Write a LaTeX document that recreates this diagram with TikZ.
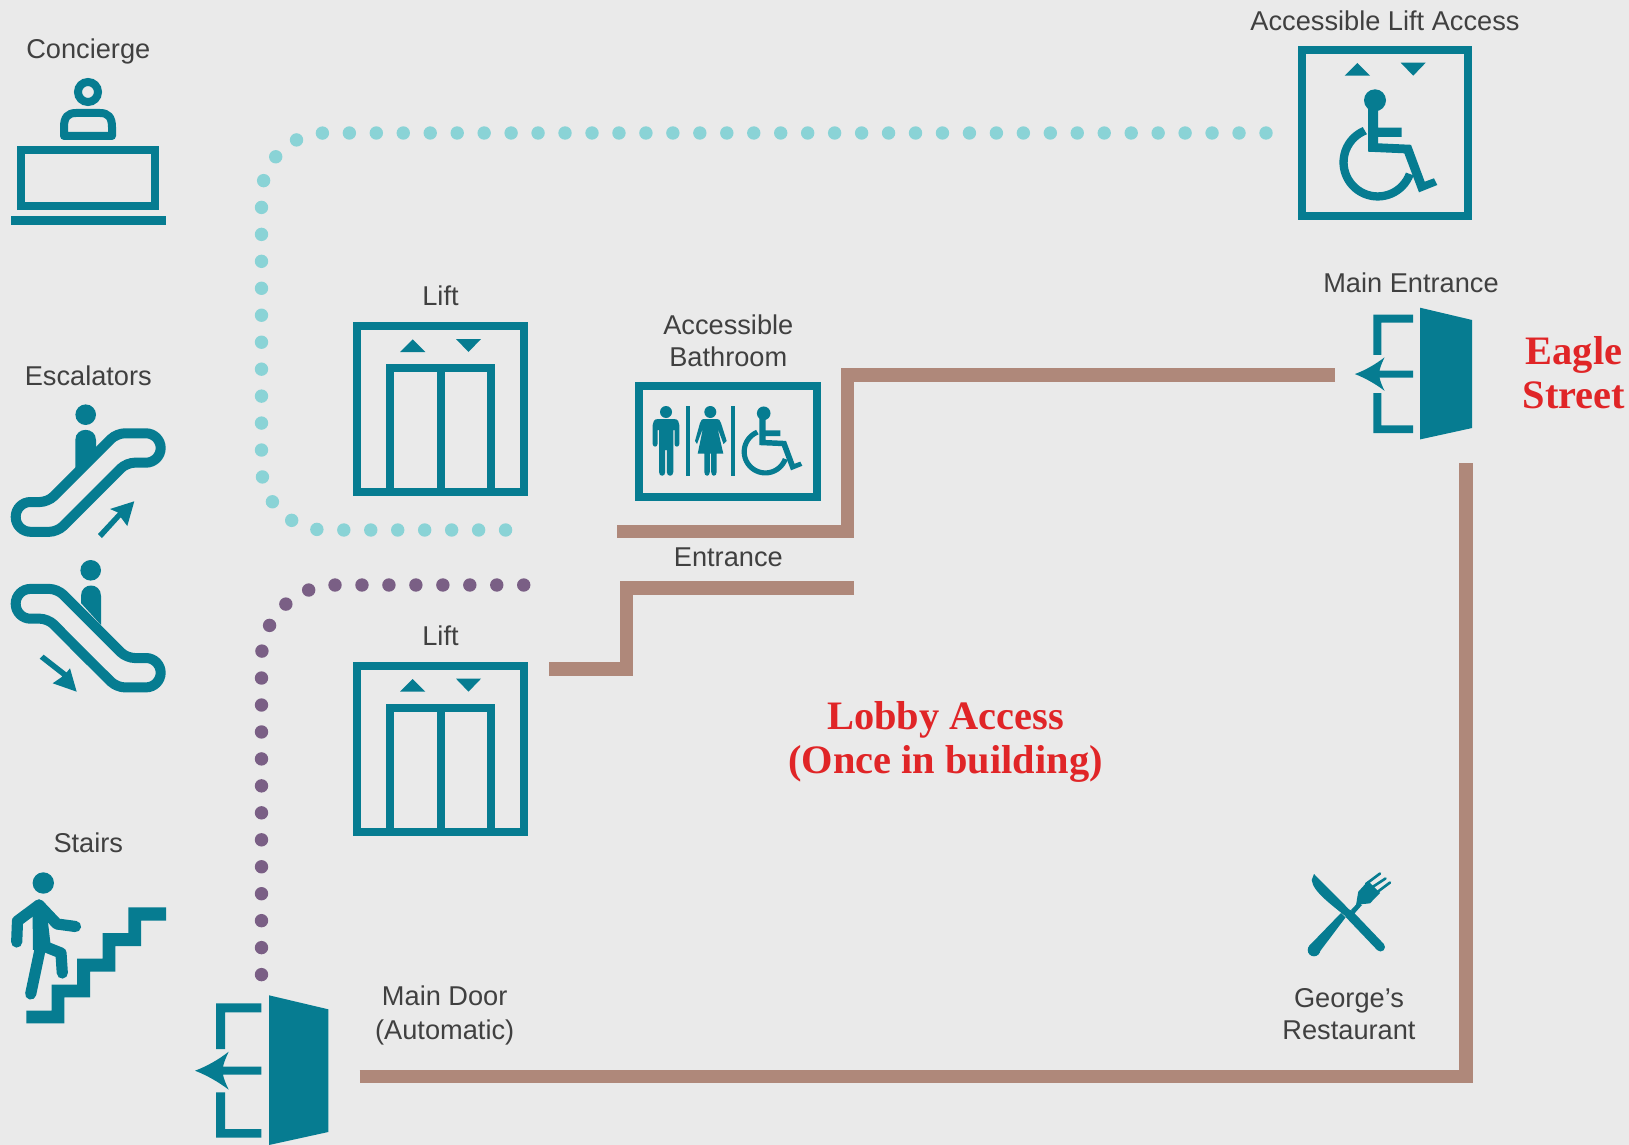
\documentclass[tikz,border=0pt]{standalone}
\usepackage{fontspec}
\setmainfont{Liberation Sans}
\newfontfamily\streetfont{Liberation Serif}
\definecolor{signteal}{HTML}{067C91}
\definecolor{pathbrown}{HTML}{AF887A}
\definecolor{dotcyan}{HTML}{8AD3D6}
\definecolor{dotpurple}{HTML}{7A5F85}
\definecolor{streetred}{HTML}{E02527}
\definecolor{textgrey}{HTML}{404040}
\definecolor{wallgrey}{HTML}{EAEAEA}
\tikzset{
  signtext/.style={text=textgrey,align=center,inner sep=0pt,font=\fontsize{13.6}{16}\selectfont},
  signbase/.style={signtext,anchor=base},
  streettext/.style={text=streetred,align=center,inner sep=0pt,font=\streetfont\bfseries\fontsize{20.2}{22}\selectfont},
  route/.style={draw=pathbrown,line width=6.67pt,miter limit=10},
  cyandots/.style={draw=dotcyan,line width=6.7pt,line cap=round,dash pattern=on 0pt off 13.48pt,rounded corners=32pt},
  purpledots/.style={draw=dotpurple,line width=6.7pt,line cap=round,dash pattern=on 0pt off 13.48pt,rounded corners=37pt},
  iconline/.style={draw=signteal,line width=4pt},
  limb/.style={draw=signteal,line width=5.6pt,line cap=round,line join=round},
  belt/.style={draw=signteal,line width=5pt},
  liftframe/.pic={
    \draw[iconline] (4,4) rectangle (170.4,170);
    \fill[signteal] (46.7,29.7) -- (59.4,17) -- (72,29.7) -- cycle;
    \fill[signteal] (102.7,16.7) -- (127.7,16.7) -- (115.2,29.7) -- cycle;
  },
  liftbox/.pic={
    \pic {liftframe};
    \draw[iconline] (36.7,170) -- (36.7,45.7) -- (137.7,45.7) -- (137.7,170);
    \draw[iconline] (87.4,45.7) -- (87.4,170);
  },
  exitdoor/.pic={
    \fill[signteal] (0,0) -- (59.3,14) -- (59.3,136.7) -- (0,149.7) -- cycle;
    \fill[signteal] (-7.7,8) -- (-53,8) -- (-53,53.7) -- (-44,53.7) -- (-44,17) -- (-7.7,17) -- cycle;
    \fill[signteal] (-7.7,133.7) -- (-44,133.7) -- (-44,97) -- (-53,97) -- (-53,142.4) -- (-7.7,142.4) -- cycle;
    \fill[signteal] (-74,75.4) .. controls (-62,71) and (-50,64) .. (-40.3,56.4)
      .. controls (-43,62) and (-45,67) .. (-46,71.4) -- (-7.7,71.4) -- (-7.7,79.4) -- (-46,79.4)
      .. controls (-45,84) and (-43,89) .. (-40.3,94.4) .. controls (-50,87) and (-62,80) .. (-74,75.4) -- cycle;
  },
  wheelchair/.pic={
    \fill[signteal] (0,0) circle[radius=11];
    \fill[signteal] (-7,0) -- (3,0) -- (3,27.4) -- (26.7,27.4) -- (26.7,36.7) -- (3,36.7) -- (3,43) -- (36,44.5)
      -- (49.7,81.4) -- (59,78) -- (62.3,84.7) -- (44,92) -- (29.3,53) -- (-7,51.4) -- cycle;
    \fill[signteal] plot[domain=20:247,samples=40] ({2.7+38.3*cos(\x)},{62+38.3*sin(\x)})
      -- plot[domain=249:20,samples=40] ({2.7+30*cos(\x)},{62+30*sin(\x)}) -- cycle;
  }
}
\begin{document}
\begin{tikzpicture}[x=0.5pt,y=-0.5pt]
\fill[wallgrey] (0,0) rectangle (1629,1145);
\useasboundingbox (0,0) rectangle (1629,1145);

% labels
\node[signbase] (concierge) at (88.3,58.3) {Concierge};
\node[signbase] (escalators) at (88.3,385) {Escalators};
\node[signbase] (stairs) at (88.3,852.7) {Stairs};
\node[signbase] (liftupper) at (440.5,305.8) {Lift};
\node[signbase] (liftlower) at (440.5,645.8) {Lift};
\node[signtext] (bathroom) at (728.3,341) {Accessible\\Bathroom};
\node[signbase] (entrance) at (728.3,566.7) {Entrance};
\node[signbase] (liftaccess) at (1385,30.5) {Accessible Lift Access};
\node[signbase] (mainentrance) at (1411,292.7) {Main Entrance};
\node[signtext] (maindoor) at (444.7,1015) {Main Door\\[1pt](Automatic)};
\node[signtext] (restaurant) at (1349,1014) {George’s\\Restaurant};
\node[streettext] (eagle) at (1574,373) {Eagle\\Street};
\node[streettext] (lobby) at (945.5,741.5) {Lobby Access\\(Once in building)};

% routes
\coordinate (entrancefree) at (1335,375);
\coordinate (bathfree) at (617,531.3);
\coordinate (lobbyfree) at (854,588);
\coordinate (liftfree) at (548.6,669);
\coordinate (doorfree) at (359.5,1076.5);
\coordinate (streetfree) at (1466,463.4);
\draw[route] (entrancefree) -- (847.3,375) -- (847.3,531.3) -- (bathfree);
\draw[route] (lobbyfree) -- (626.5,588) -- (626.5,669) -- (liftfree);
\draw[route] (doorfree) -- (1466,1076.5) -- (streetfree);

% dotted walks
\coordinate (cyanstart) at (1266,133);
\coordinate (cyanend) at (512,530);
\coordinate (purplestart) at (261.5,974.6);
\coordinate (purpleend) at (525,585);
\draw[cyandots] (cyanstart) -- (261.5,133) -- (261.5,530) -- (cyanend);
\draw[purpledots] (purplestart) -- (261.5,585) -- (purpleend);

% concierge
\draw[draw=signteal,line width=4pt] (88,92) circle[radius=10];
\draw[iconline,line join=round] (64,136) -- (64,127) .. controls (64,117) and (68,113) .. (76,113) -- (100,113) .. controls (108,113) and (112,117) .. (112,127) -- (112,136) -- cycle;
\draw[iconline] (21,150) rectangle (155,206);
\fill[signteal] (10.7,216) rectangle (166,225);

% escalators
\fill[signteal] (85.7,414.7) circle[radius=10.3];
\fill[signteal] (75.3,470) -- (75.3,440) .. controls (75.3,426.5) and (96,426.5) .. (96,440) -- (96,448) -- cycle;
\draw[belt] (82,468) [rounded corners=4pt] -- (116.7,433.3) [rounded corners=7.4pt] -- (160.7,433.3) -- (160.7,462.7) [rounded corners=4pt] -- (126.5,462.7) -- (57.4,531.8) [rounded corners=7.4pt] -- (15.7,531.8) -- (15.7,502) [rounded corners=4pt] -- (48,502) -- cycle;
\fill[signteal] (134.3,501.3) -- (127.3,526) -- (120.8,517.3) -- (102,538) -- (98,534) -- (118,512.5) -- (110,509) -- cycle;
\fill[signteal] (90.7,570.3) circle[radius=10.3];
\fill[signteal] (81,603) -- (81,596) .. controls (81,582) and (101,582) .. (101,596) -- (101,625) -- cycle;
\draw[belt] (82,653) [rounded corners=4pt] -- (116.7,687.4) [rounded corners=7.4pt] -- (160.7,687.4) -- (160.7,658) [rounded corners=4pt] -- (126.5,658) -- (57.4,588.9) [rounded corners=7.4pt] -- (15.7,588.9) -- (15.7,618.7) [rounded corners=4pt] -- (48,618.7) -- cycle;
\fill[signteal] (76.7,691.7) -- (52.7,683.3) -- (62.5,676.5) -- (39.7,658.7) -- (43.7,654.7) -- (66.5,672.5) -- (70,668.3) -- cycle;

% stairs
\fill[signteal] (26.3,1010.7) -- (51.7,1010.7) -- (51.7,984.7) -- (77,984.7) -- (77,958.7) -- (102.7,958.7) -- (102.7,933) -- (128.3,933) -- (128.3,907.3) -- (166,907.3) -- (166,920.7) -- (141,920.7) -- (141,946) -- (115.3,946) -- (115.3,971.7) -- (90,971.7) -- (90,997.3) -- (64.3,997.3) -- (64.3,1023.3) -- (26.3,1023.3) -- cycle;
\fill[signteal] (43.3,883) circle[radius=10.7];
\draw[limb] (16.7,942) -- (17.5,921) -- (39,905) -- (57,924) -- (75.5,926.5);
\draw[limb] (39,905) -- (41,945) -- (30.7,994);
\draw[limb] (41,945) -- (61,953) -- (62.3,973);
\fill[signteal] (32.5,908) -- (46,905) -- (51,948) -- (33,950) -- cycle;

% lifts
\pic at (353.3,322.3) {liftbox};
\pic at (353.3,662) {liftbox};
\pic at (1298,46) {liftframe};
\pic[scale=1] at (1375,100.3) {wheelchair};

% bathroom sign
\draw[iconline] (639.3,385.7) rectangle (816.7,496.7);
\fill[signteal] (666,412) circle[radius=6];
\fill[signteal] (658,419) -- (674,419) .. controls (678,419) and (679.3,422) .. (679.3,425) -- (679.3,444) .. controls (679.3,447.5) and (674.5,447.5) .. (674.5,444) -- (674.5,430) -- (673.3,430) -- (673.3,472) .. controls (673.3,477) and (666.8,477) .. (666.8,472) -- (666.8,450) -- (665.2,450) -- (665.2,472) .. controls (665.2,477) and (659,477) .. (659,472) -- (659,430) -- (657.5,430) -- (657.5,444) .. controls (657.5,447.5) and (652.7,447.5) .. (652.7,444) -- (652.7,425) .. controls (652.7,422) and (654,419) .. (658,419) -- cycle;
\fill[signteal] (686,406) rectangle (690,476);
\fill[signteal] (731,406) rectangle (735,476);
\fill[signteal] (710.3,412) circle[radius=6];
\fill[signteal] (703.5,419) -- (717,419) .. controls (719,419) and (720,420) .. (721,423) -- (726.7,441) -- (723.5,444) -- (717.5,428) -- (723.3,453.7) -- (716.7,453.7) -- (716.7,472) .. controls (716.7,477) and (711.2,477) .. (711.2,472) -- (711.2,453.7) -- (709.8,453.7) -- (709.8,472) .. controls (709.8,477) and (704.3,477) .. (704.3,472) -- (704.3,453.7) -- (697.7,453.7) -- (703,428) -- (697,444) -- (695,441) -- (700,423) .. controls (701,420) and (702,419) .. (703.5,419) -- cycle;
\pic[scale=0.62] at (763.7,413.3) {wheelchair};

% doors
\pic at (269,995.3) {exitdoor};
\pic[scale=0.88] at (1420,307.7) {exitdoor};

% restaurant
\fill[signteal] (1314,874) -- (1350.7,911) -- (1347.3,917.7) .. controls (1332,905) and (1313,892) .. (1311.7,880) -- cycle;
\draw[draw=signteal,line width=4.5pt,line cap=round] (1349,914) -- (1380.5,947);
\fill[signteal] (1314,950) circle[radius=6.3];
\fill[signteal] (1309,946) -- (1341,913) -- (1345.5,917.5) -- (1318,954) -- cycle;
\fill[signteal] (1351,910) -- (1358,902.5) -- (1362,905) -- (1354,914) -- cycle;
\fill[signteal] (1358.3,891.7) -- (1368,881) -- (1380,893) -- (1370,903.3) .. controls (1365,904) and (1360,904) .. (1356,905) .. controls (1357,900) and (1357.5,895) .. (1358.3,891.7) -- cycle;
\draw[draw=signteal,line width=1.3pt,line cap=round] (1366,884) -- (1380,873.5);
\draw[draw=signteal,line width=1.3pt,line cap=round] (1371,888) -- (1385.5,878.5);
\draw[draw=signteal,line width=1.3pt,line cap=round] (1376,893) -- (1390,882.5);
\end{tikzpicture}
\end{document}
